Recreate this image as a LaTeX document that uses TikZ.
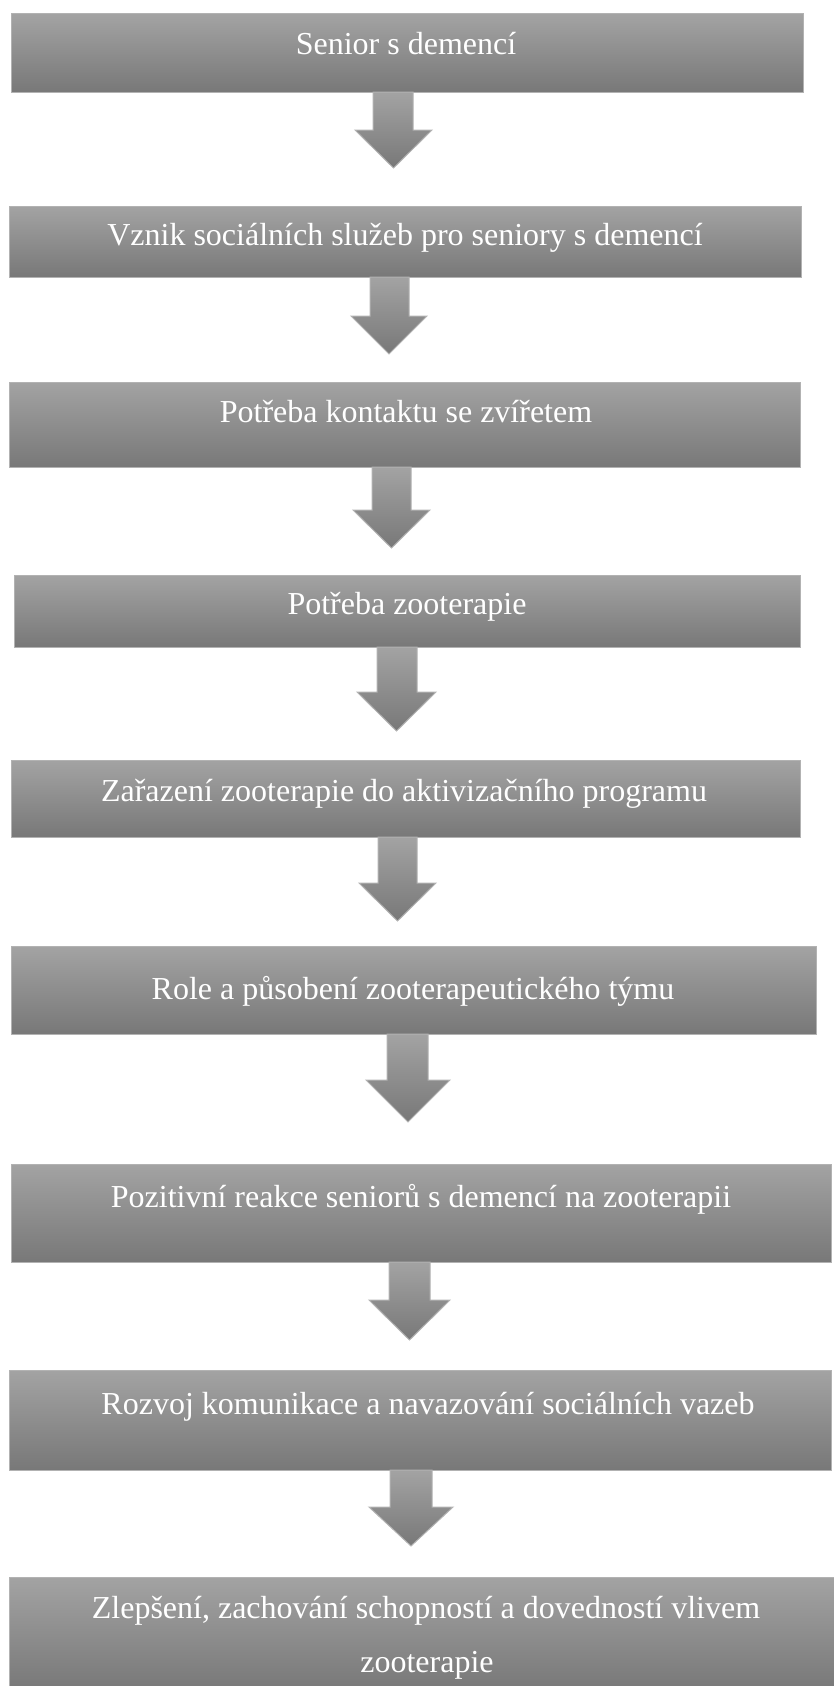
\documentclass[tikz,border=0pt]{standalone}
\usepackage{fontspec}
\setmainfont{Liberation Serif}
\definecolor{gtop}{HTML}{A3A3A3}
\definecolor{gbot}{HTML}{787878}
\definecolor{edgec}{HTML}{B2B2B2}
\newcommand\flowarr[7]{\path[arr] (#1,#5) -- (#2,#5) -- (#2,#6) -- (#4,#6) -- ({(#3+#4)/2},#7) -- (#3,#6) -- (#1,#6) -- cycle;}
\begin{document}
\begin{tikzpicture}[x=1pt,y=-1pt,
  box/.style={draw=edgec, line width=1pt, top color=gtop, bottom color=gbot},
  arr/.style={draw=edgec, line width=1pt, top color=gtop, bottom color=gbot},
  lbl/.style={anchor=base, text=white, font=\fontsize{32}{54}\selectfont, inner sep=0pt, align=center}]
\useasboundingbox (0,0) rectangle (833,1686);
% boxes
\path[box] (11,14) rectangle (803,92) coordinate (b1);
\path[box] (9,206) rectangle (801,277) coordinate (b2);
\path[box] (9,382) rectangle (800,467) coordinate (b3);
\path[box] (14,575) rectangle (800,647) coordinate (b4);
\path[box] (11,760) rectangle (800,837) coordinate (b5);
\path[box] (11,946) rectangle (816,1034) coordinate (b6);
\path[box] (11,1164) rectangle (831,1262) coordinate (b7);
\path[box] (9,1370) rectangle (831,1470) coordinate (b8);
\path[box] (9,1577) rectangle (834,1690) coordinate (b9);
% arrows
\flowarr{373}{413}{355}{432}{92}{130}{168}
\flowarr{370}{409}{351}{427}{277}{316}{354}
\flowarr{372}{411}{353}{430}{467}{510}{548}
\flowarr{377}{417}{357}{436}{647}{692}{731}
\flowarr{378}{417}{359}{436}{837}{883}{921}
\flowarr{387}{428}{366}{450}{1034}{1080}{1122}
\flowarr{389}{430}{369}{450}{1262}{1300}{1340}
\flowarr{390}{432}{369}{453}{1470}{1507}{1546}
% labels
\node[lbl] (t1) at (406,55) {Senior s demencí};
\node[lbl] (t2) at (405,245) {Vznik sociálních služeb pro seniory s demencí};
\node[lbl] (t3) at (406,422) {Potřeba kontaktu se zvířetem};
\node[lbl] (t4) at (407,614) {Potřeba zooterapie};
\node[lbl] (t5) at (404,801) {Zařazení zooterapie do aktivizačního programu};
\node[lbl] (t6) at (413,999) {Role a působení zooterapeutického týmu};
\node[lbl] (t7) at (421,1207) {Pozitivní reakce seniorů s demencí na zooterapii};
\node[lbl] (t8) at (428,1414) {Rozvoj komunikace a navazování sociálních vazeb};
\node[lbl] (t9) at (426,1618) {Zlepšení, zachování schopností a dovedností vlivem};
\node[lbl] (t10) at (427,1672) {zooterapie};
\end{tikzpicture}
\end{document}
